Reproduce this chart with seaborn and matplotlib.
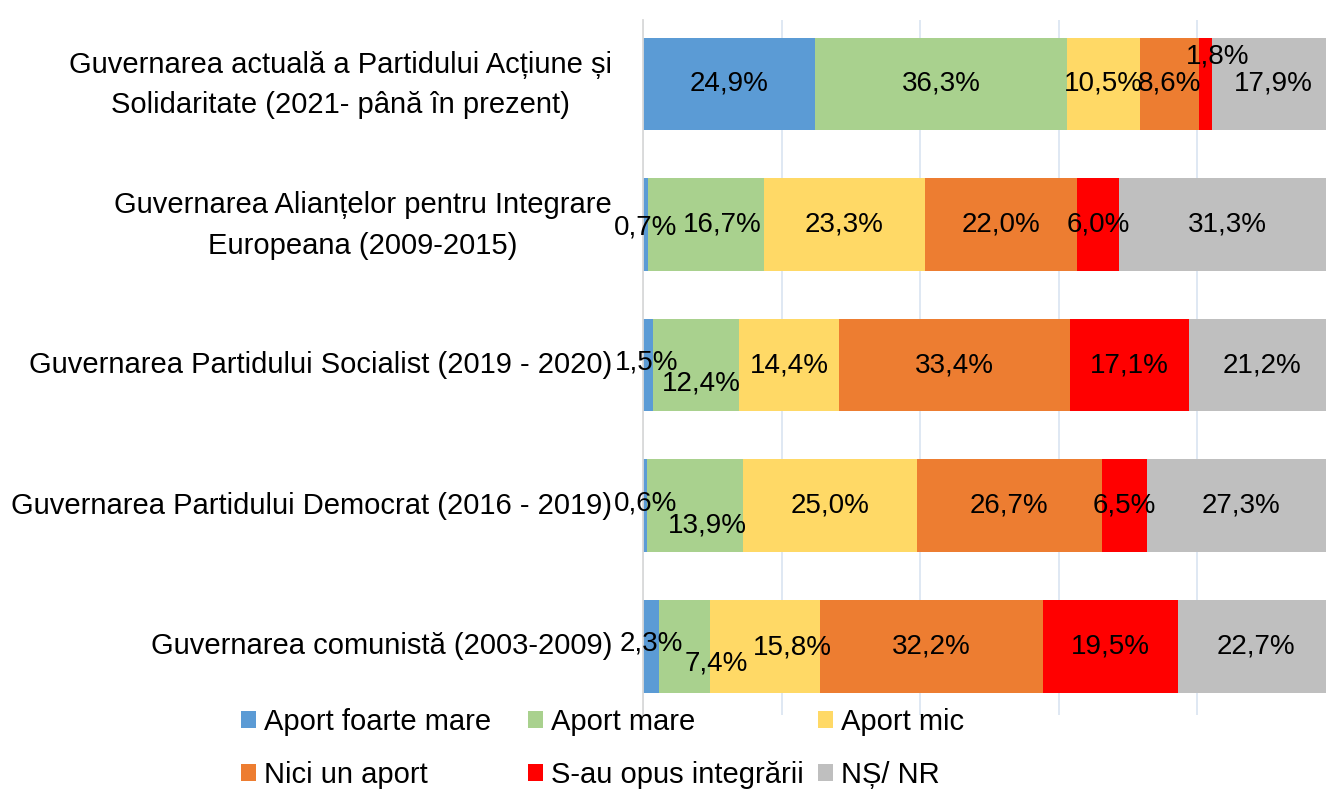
import numpy as np
import pandas as pd
import matplotlib
matplotlib.use("Agg")
import matplotlib.pyplot as plt
import seaborn as sns
from matplotlib.patches import Patch

categories = [
    "Guvernarea actuală a Partidului Acțiune și\nSolidaritate (2021- până în prezent)",
    "Guvernarea Alianțelor pentru Integrare\nEuropeana (2009-2015)",
    "Guvernarea Partidului Socialist (2019 - 2020)",
    "Guvernarea Partidului Democrat (2016 - 2019)",
    "Guvernarea comunistă (2003-2009)",
]
series_names = ["Aport foarte mare", "Aport mare", "Aport mic",
                "Nici un aport", "S-au opus integrării", "NȘ/ NR"]
aport_foarte_mare = [24.9, 0.7, 1.5, 0.6, 2.3]
aport_mare = [36.3, 16.7, 12.4, 13.9, 7.4]
aport_mic = [10.5, 23.3, 14.4, 25.0, 15.8]
nici_un_aport = [8.6, 22.0, 33.4, 26.7, 32.2]
s_au_opus = [1.8, 6.0, 17.1, 6.5, 19.5]
ns_nr = [17.9, 31.3, 21.2, 27.3, 22.7]

colors = ["#5B9BD5", "#A9D18E", "#FFD966", "#ED7D31", "#FF0000", "#BFBFBF"]

# label offsets in pixels (dx right, dy down) for crowded labels
label_offsets = {
    (0, 4): (12, -27),
    (1, 0): (0, 3), (1, 1): (17, 0),
    (2, 0): (-2, -3), (2, 1): (5, 18),
    (3, 0): (0, -2), (3, 1): (12, 20),
    (4, 0): (0, -3), (4, 1): (32, 17), (4, 2): (27, 1),
}

vals = np.array([aport_foarte_mare, aport_mare, aport_mic,
                 nici_un_aport, s_au_opus, ns_nr]).T  # rows x series
cum = np.cumsum(vals, axis=1)

sns.set_theme(style="white")
FONT = ["Liberation Sans", "DejaVu Sans"]
plt.rcParams["font.family"] = FONT

W, H = 1326, 789
px = 0.72
fig = plt.figure(figsize=(W / 100, H / 100), dpi=100)
fig.patch.set_facecolor("white")
ax = fig.add_axes([643 / W, 1 - 715 / H, 1 - 643 / W, (715 - 20) / H])

for i in range(len(series_names) - 1, -1, -1):
    df = pd.DataFrame({"cat": categories, "val": cum[:, i]})
    sns.barplot(data=df, x="val", y="cat", orient="h", color=colors[i],
                saturation=1, width=0.66, linewidth=0, errorbar=None, ax=ax)

ax.set_xlim(0, 98.6)
ax.set_ylim(4.49, -0.455)
ax.set_xticks([0, 20, 40, 60, 80])
ax.set_xticklabels([])
ax.set_yticks(range(len(categories)))
ax.set_yticklabels([])
ax.set_xlabel("")
ax.set_ylabel("")
ax.set_axisbelow(True)
ax.grid(axis="x", color="#DCE6F2", linewidth=1.3)
ax.grid(axis="y", visible=False)
for s in ["top", "right", "bottom"]:
    ax.spines[s].set_visible(False)
ax.spines["left"].set_color("#D9D9D9")
ax.spines["left"].set_linewidth(1.3)
ax.tick_params(axis="both", length=0)

# category labels
for r, cat in enumerate(categories):
    dy = 1 if "\n" in cat else 0
    ax.annotate(cat, xy=(0, r), xycoords=("axes fraction", "data"),
                xytext=(-31 * px, -dy * px), textcoords="offset points",
                ha="right", va="center", multialignment="center",
                linespacing=1.57, fontsize=21, color="black",
                annotation_clip=False)

# data labels
for r in range(vals.shape[0]):
    for i in range(vals.shape[1]):
        v = vals[r, i]
        center = cum[r, i] - v / 2
        dx, dy = label_offsets.get((r, i), (0, 0))
        txt = f"{v:.1f}".replace(".", ",") + "%"
        ax.annotate(txt, xy=(center, r), xytext=(dx * px, -dy * px),
                    textcoords="offset points", ha="center", va="center",
                    fontsize=20, color="black", annotation_clip=False)

handles = [Patch(facecolor=c, edgecolor="none") for c in colors]
col_x = [241, 528, 818]
for c in range(3):
    idx = [c, c + 3]
    leg = fig.legend([handles[k] for k in idx], [series_names[k] for k in idx],
                     ncol=1, loc="upper left",
                     bbox_to_anchor=(col_x[c] / W, 1 - 708 / H),
                     frameon=False, fontsize=21, handlelength=0.5,
                     handleheight=0.5, handletextpad=0.3, labelspacing=0.85,
                     borderpad=0, borderaxespad=0, labelcolor="black")

fig.savefig("out.png", dpi=100, facecolor="white")
